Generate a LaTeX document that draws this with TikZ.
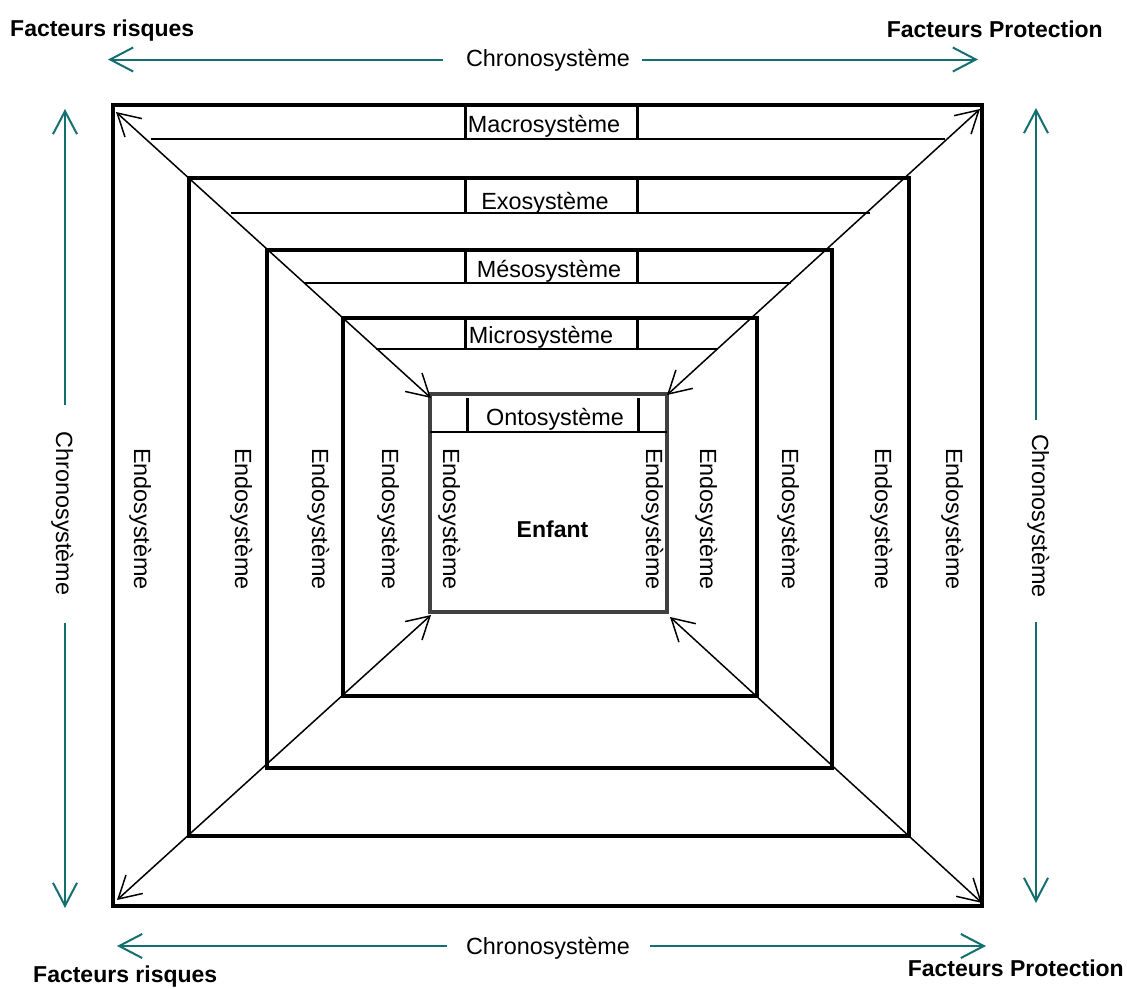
\documentclass[tikz,border=0pt]{standalone}
\usepackage{fontspec}
\setmainfont{Liberation Sans}
\usetikzlibrary{arrows.meta}
\definecolor{tealc}{RGB}{20,112,112}
\definecolor{ontogray}{RGB}{64,64,64}
\begin{document}
\begin{tikzpicture}[x=1pt,y=-1pt,
  box/.style={line width=3.3pt, line join=miter},
  band/.style={line width=1.5pt},
  tickmark/.style={line width=3pt},
  diag/.style={line width=1.5pt, {Straight Barb[length=22pt,width=25pt]}-{Straight Barb[length=22pt,width=25pt]}},
  chrono/.style={line width=2pt, draw=tealc, -{Straight Barb[length=23pt,width=24pt]}},
  lbl/.style={font=\fontsize{23.4}{27}\selectfont, inner sep=0pt, anchor=base},
  blbl/.style={font=\fontsize{23}{27}\selectfont\bfseries, inner sep=0pt},
  vlbl/.style={lbl, rotate=-90},
]
\useasboundingbox (0,0) rectangle (1127,988);
% boxes
\draw[box] (113,105) rectangle (982,906);
\draw[box] (189,178) rectangle (909,836);
\draw[box] (267,250) rectangle (832,768);
\draw[box] (343,318) rectangle (757,696);
\draw[box, draw=ontogray] (430,394) rectangle (667,612);
% band lines
\draw[band] (151,139) -- (945,139);
\draw[band] (231,213) -- (870,213);
\draw[band] (304,283) -- (791,283);
\draw[band] (376,349) -- (718,349);
\draw[band] (430,432) -- (667,432);
% ticks
\foreach \ya/\yb in {105/139, 179/213, 251/283, 319/349} {
  \draw[tickmark] (465,\ya) -- (465,\yb);
  \draw[tickmark] (637,\ya) -- (637,\yb);
}
\draw[tickmark] (467,398) -- (467,432);
\draw[tickmark] (638,398) -- (638,432);
% band labels
\node[lbl] (macro) at (544,132) {Macrosystème};
\node[lbl] (exo) at (545,209) {Exosystème};
\node[lbl] (meso) at (549,277) {Mésosystème};
\node[lbl] (micro) at (541,343) {Microsystème};
\node[lbl] (onto) at (555,425) {Ontosystème};
% diagonals
\coordinate (tlO) at (116,112);
\coordinate (tlI) at (431,398);
\coordinate (trO) at (980,109);
\coordinate (trI) at (667,395);
\coordinate (blO) at (117,900);
\coordinate (blI) at (431,615);
\coordinate (brO) at (982,903);
\coordinate (brI) at (670,617);
\draw[diag] (tlI) -- (tlO);
\draw[diag] (trI) -- (trO);
\draw[diag] (blI) -- (blO);
\draw[diag] (brI) -- (brO);
% endosysteme labels
\foreach \x [count=\i] in {134,235,312,382,443,646,700,782,875,946} {
  \node[vlbl] (endo\i) at (\x,519) {Endosystème};
}
\node[blbl, anchor=base] (enfant) at (552.5,537) {Enfant};
% chronosysteme
\node[lbl] (chT) at (548,66) {Chronosystème};
\node[lbl] (chB) at (548,954) {Chronosystème};
\node[vlbl] (chL) at (56,513.5) {Chronosystème};
\node[vlbl] (chR) at (1032,516) {Chronosystème};
\coordinate (tA) at (443,59.5); \coordinate (tAe) at (108,59.5);
\coordinate (tB) at (642,59.5); \coordinate (tBe) at (978,59.5);
\coordinate (bA) at (447,946); \coordinate (bAe) at (117,946);
\coordinate (bB) at (650,946); \coordinate (bBe) at (986,946);
\coordinate (lA) at (65,405); \coordinate (lAe) at (65,109);
\coordinate (lB) at (65,623); \coordinate (lBe) at (65,908);
\coordinate (rA) at (1036,420); \coordinate (rAe) at (1036,108);
\coordinate (rB) at (1036,622); \coordinate (rBe) at (1036,903);
\draw[chrono] (tA) -- (tAe);
\draw[chrono] (tB) -- (tBe);
\draw[chrono] (bA) -- (bAe);
\draw[chrono] (bB) -- (bBe);
\draw[chrono] (lA) -- (lAe);
\draw[chrono] (lB) -- (lBe);
\draw[chrono] (rA) -- (rAe);
\draw[chrono] (rB) -- (rBe);
% facteurs
\node[blbl, anchor=base west] (frT) at (10,36) {Facteurs risques};
\node[blbl, anchor=base east] (fpT) at (1103,37) {Facteurs Protection};
\node[blbl, anchor=base west] (frB) at (33,982) {Facteurs risques};
\node[blbl, anchor=base east] (fpB) at (1124,976) {Facteurs Protection};
\end{tikzpicture}
\end{document}
